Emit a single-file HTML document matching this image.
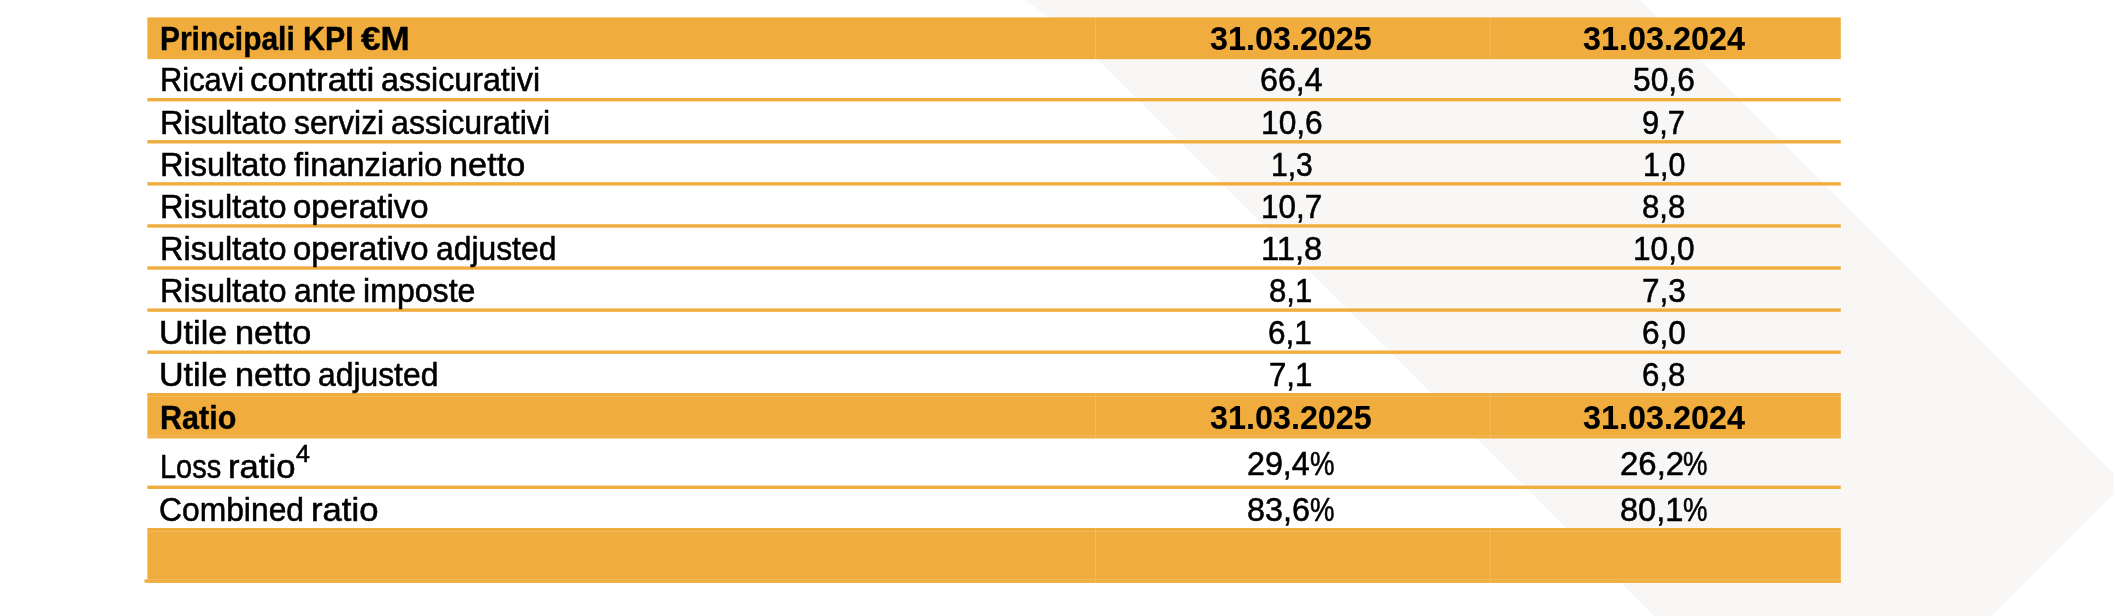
<!DOCTYPE html>
<html><head><meta charset="utf-8"><title>KPI</title>
<style>
html,body{margin:0;padding:0;background:#fff;}
body{width:2114px;height:616px;position:relative;overflow:hidden;font-family:"Liberation Sans",sans-serif;color:#000;}
.r{position:absolute;}
.t{-webkit-text-stroke-color:#000;position:absolute;white-space:nowrap;line-height:1;transform-origin:0 0;display:block;}
svg{position:absolute;left:0;top:0;}
#txt{position:absolute;left:0;top:0;width:2114px;height:616px;will-change:transform;}
</style></head><body>
<svg width="2114" height="616" viewBox="0 0 2114 616"><polygon fill="#f8f7f5" points="1024.9,0 1048.3,16.8 1097.8,59.8 1654,616 1991.5,616 2123.85,483.65 1640.2,0"/>
<rect x="147.35" y="17.40" width="1693.45" height="41.75" fill="#f0ad3d"/>
<rect x="147.35" y="98.00" width="1693.45" height="3.40" fill="#f0ad3d"/>
<rect x="147.35" y="140.08" width="1693.45" height="3.40" fill="#f0ad3d"/>
<rect x="147.35" y="182.16" width="1693.45" height="3.40" fill="#f0ad3d"/>
<rect x="147.35" y="224.24" width="1693.45" height="3.40" fill="#f0ad3d"/>
<rect x="147.35" y="266.32" width="1693.45" height="3.40" fill="#f0ad3d"/>
<rect x="147.35" y="308.40" width="1693.45" height="3.40" fill="#f0ad3d"/>
<rect x="147.35" y="350.48" width="1693.45" height="3.40" fill="#f0ad3d"/>
<rect x="147.35" y="393.00" width="1693.45" height="45.50" fill="#f0ad3d"/>
<rect x="147.35" y="485.60" width="1693.45" height="3.40" fill="#f0ad3d"/>
<rect x="147.35" y="528.00" width="1693.45" height="54.70" fill="#f0ad3d"/>
<rect x="144.50" y="579.40" width="1696.30" height="3.30" fill="#f0ad3d"/>
<rect x="1095.10" y="17.40" width="0.70" height="41.70" fill="rgba(255,255,255,0.22)"/>
<rect x="1489.70" y="17.40" width="0.70" height="41.70" fill="rgba(255,255,255,0.22)"/>
<rect x="1095.10" y="393.00" width="0.70" height="45.50" fill="rgba(255,255,255,0.22)"/>
<rect x="1489.70" y="393.00" width="0.70" height="45.50" fill="rgba(255,255,255,0.22)"/>
<rect x="1095.10" y="528.00" width="0.70" height="54.70" fill="rgba(255,255,255,0.22)"/>
<rect x="1489.70" y="528.00" width="0.70" height="54.70" fill="rgba(255,255,255,0.22)"/>
<rect x="147.35" y="396.10" width="1693.45" height="0.70" fill="rgba(255,255,255,0.22)"/>
<rect x="147.35" y="435.60" width="1693.45" height="0.70" fill="rgba(255,255,255,0.22)"/>
<rect x="147.35" y="531.20" width="1693.45" height="0.70" fill="rgba(255,255,255,0.22)"/>
<rect x="147.35" y="579.00" width="1693.45" height="0.70" fill="rgba(255,255,255,0.22)"/>
</svg>
<div id="txt">
<span class="t" style="left:160.33px;top:23.05px;font-size:32.5px;transform:scaleX(0.9210);-webkit-text-stroke-width:0.4px;font-weight:bold;">Principali</span>
<span class="t" style="left:303.30px;top:23.05px;font-size:32.5px;transform:scaleX(0.9338);-webkit-text-stroke-width:0.4px;font-weight:bold;">KPI</span>
<span class="t" style="left:361.20px;top:23.05px;font-size:32.5px;transform:scaleX(1.0790);-webkit-text-stroke-width:0.4px;font-weight:bold;">€M</span>
<span class="t" style="left:159.76px;top:64.05px;font-size:32.5px;transform:scaleX(0.9492);-webkit-text-stroke-width:0.55px;">Ricavi</span>
<span class="t" style="left:249.88px;top:64.05px;font-size:32.5px;transform:scaleX(1.0747);-webkit-text-stroke-width:0.55px;">contratti</span>
<span class="t" style="left:381.27px;top:64.05px;font-size:32.5px;transform:scaleX(0.9897);-webkit-text-stroke-width:0.55px;">assicurativi</span>
<span class="t" style="left:159.63px;top:107.05px;font-size:32.5px;transform:scaleX(1.0005);-webkit-text-stroke-width:0.55px;">Risultato</span>
<span class="t" style="left:293.78px;top:107.05px;font-size:32.5px;transform:scaleX(0.9789);-webkit-text-stroke-width:0.55px;">servizi</span>
<span class="t" style="left:390.67px;top:107.05px;font-size:32.5px;transform:scaleX(0.9897);-webkit-text-stroke-width:0.55px;">assicurativi</span>
<span class="t" style="left:159.63px;top:149.05px;font-size:32.5px;transform:scaleX(1.0005);-webkit-text-stroke-width:0.55px;">Risultato</span>
<span class="t" style="left:293.77px;top:149.05px;font-size:32.5px;transform:scaleX(1.0016);-webkit-text-stroke-width:0.55px;">finanziario</span>
<span class="t" style="left:449.43px;top:149.05px;font-size:32.5px;transform:scaleX(1.0553);-webkit-text-stroke-width:0.55px;">netto</span>
<span class="t" style="left:159.63px;top:191.05px;font-size:32.5px;transform:scaleX(1.0005);-webkit-text-stroke-width:0.55px;">Risultato</span>
<span class="t" style="left:293.24px;top:191.05px;font-size:32.5px;transform:scaleX(1.0144);-webkit-text-stroke-width:0.55px;">operativo</span>
<span class="t" style="left:159.63px;top:233.05px;font-size:32.5px;transform:scaleX(1.0005);-webkit-text-stroke-width:0.55px;">Risultato</span>
<span class="t" style="left:293.24px;top:233.05px;font-size:32.5px;transform:scaleX(1.0144);-webkit-text-stroke-width:0.55px;">operativo</span>
<span class="t" style="left:435.98px;top:233.05px;font-size:32.5px;transform:scaleX(0.9793);-webkit-text-stroke-width:0.55px;">adjusted</span>
<span class="t" style="left:159.63px;top:275.05px;font-size:32.5px;transform:scaleX(1.0005);-webkit-text-stroke-width:0.55px;">Risultato</span>
<span class="t" style="left:293.68px;top:275.05px;font-size:32.5px;transform:scaleX(0.9791);-webkit-text-stroke-width:0.55px;">ante</span>
<span class="t" style="left:362.87px;top:275.05px;font-size:32.5px;transform:scaleX(0.9882);-webkit-text-stroke-width:0.55px;">imposte</span>
<span class="t" style="left:159.45px;top:317.05px;font-size:32.5px;transform:scaleX(1.0484);-webkit-text-stroke-width:0.55px;">Utile</span>
<span class="t" style="left:234.63px;top:317.05px;font-size:32.5px;transform:scaleX(1.0553);-webkit-text-stroke-width:0.55px;">netto</span>
<span class="t" style="left:159.45px;top:359.05px;font-size:32.5px;transform:scaleX(1.0484);-webkit-text-stroke-width:0.55px;">Utile</span>
<span class="t" style="left:234.63px;top:359.05px;font-size:32.5px;transform:scaleX(1.0553);-webkit-text-stroke-width:0.55px;">netto</span>
<span class="t" style="left:318.18px;top:359.05px;font-size:32.5px;transform:scaleX(0.9793);-webkit-text-stroke-width:0.55px;">adjusted</span>
<span class="t" style="left:159.89px;top:402.05px;font-size:32.5px;transform:scaleX(0.9392);-webkit-text-stroke-width:0.4px;font-weight:bold;">Ratio</span>
<span class="t" style="left:159.91px;top:451.05px;font-size:32.5px;transform:scaleX(0.8918);-webkit-text-stroke-width:0.55px;">Loss</span>
<span class="t" style="left:228.21px;top:451.05px;font-size:32.5px;transform:scaleX(1.0664);-webkit-text-stroke-width:0.55px;">ratio</span>
<span class="t" style="left:159.08px;top:494.05px;font-size:32.5px;transform:scaleX(0.9790);-webkit-text-stroke-width:0.55px;">Combined</span>
<span class="t" style="left:311.11px;top:494.05px;font-size:32.5px;transform:scaleX(1.0664);-webkit-text-stroke-width:0.55px;">ratio</span>
<span class="t" style="left:1210.14px;top:22.05px;font-size:33.5px;transform:scaleX(0.9651);-webkit-text-stroke-width:0.1px;font-weight:bold;">31.03.2025</span>
<span class="t" style="left:1582.54px;top:22.05px;font-size:33.5px;transform:scaleX(0.9662);-webkit-text-stroke-width:0.1px;font-weight:bold;">31.03.2024</span>
<span class="t" style="left:1259.77px;top:63.05px;font-size:33.5px;transform:scaleX(0.9595);-webkit-text-stroke-width:0.55px;">66,4</span>
<span class="t" style="left:1632.98px;top:63.05px;font-size:33.5px;transform:scaleX(0.9483);-webkit-text-stroke-width:0.55px;">50,6</span>
<span class="t" style="left:1260.89px;top:106.05px;font-size:33.5px;transform:scaleX(0.9466);-webkit-text-stroke-width:0.55px;">10,6</span>
<span class="t" style="left:1642.33px;top:106.05px;font-size:33.5px;transform:scaleX(0.9200);-webkit-text-stroke-width:0.55px;">9,7</span>
<span class="t" style="left:1270.60px;top:148.05px;font-size:33.5px;transform:scaleX(0.8964);-webkit-text-stroke-width:0.55px;">1,3</span>
<span class="t" style="left:1643.37px;top:148.05px;font-size:33.5px;transform:scaleX(0.9085);-webkit-text-stroke-width:0.55px;">1,0</span>
<span class="t" style="left:1261.01px;top:190.05px;font-size:33.5px;transform:scaleX(0.9369);-webkit-text-stroke-width:0.55px;">10,7</span>
<span class="t" style="left:1641.90px;top:190.05px;font-size:33.5px;transform:scaleX(0.9295);-webkit-text-stroke-width:0.55px;">8,8</span>
<span class="t" style="left:1260.93px;top:232.05px;font-size:33.5px;transform:scaleX(0.9762);-webkit-text-stroke-width:0.55px;">11,8</span>
<span class="t" style="left:1633.00px;top:232.05px;font-size:33.5px;transform:scaleX(0.9434);-webkit-text-stroke-width:0.55px;">10,0</span>
<span class="t" style="left:1268.90px;top:274.05px;font-size:33.5px;transform:scaleX(0.9295);-webkit-text-stroke-width:0.55px;">8,1</span>
<span class="t" style="left:1641.80px;top:274.05px;font-size:33.5px;transform:scaleX(0.9406);-webkit-text-stroke-width:0.55px;">7,3</span>
<span class="t" style="left:1268.40px;top:316.05px;font-size:33.5px;transform:scaleX(0.9406);-webkit-text-stroke-width:0.55px;">6,1</span>
<span class="t" style="left:1641.79px;top:316.05px;font-size:33.5px;transform:scaleX(0.9431);-webkit-text-stroke-width:0.55px;">6,0</span>
<span class="t" style="left:1268.81px;top:358.05px;font-size:33.5px;transform:scaleX(0.9315);-webkit-text-stroke-width:0.55px;">7,1</span>
<span class="t" style="left:1641.81px;top:358.05px;font-size:33.5px;transform:scaleX(0.9315);-webkit-text-stroke-width:0.55px;">6,8</span>
<span class="t" style="left:1210.14px;top:401.05px;font-size:33.5px;transform:scaleX(0.9651);-webkit-text-stroke-width:0.1px;font-weight:bold;">31.03.2025</span>
<span class="t" style="left:1582.54px;top:401.05px;font-size:33.5px;transform:scaleX(0.9662);-webkit-text-stroke-width:0.1px;font-weight:bold;">31.03.2024</span>
<span class="t" style="left:1246.76px;top:447.05px;font-size:33.5px;transform:scaleX(0.9626);-webkit-text-stroke-width:0.55px;">29,4</span>
<span class="t" style="left:1310.21px;top:447.05px;font-size:33.5px;transform:scaleX(0.8237);-webkit-text-stroke-width:0.55px;">%</span>
<span class="t" style="left:1619.53px;top:447.05px;font-size:33.5px;transform:scaleX(0.9836);-webkit-text-stroke-width:0.55px;">26,2</span>
<span class="t" style="left:1683.21px;top:447.05px;font-size:33.5px;transform:scaleX(0.8237);-webkit-text-stroke-width:0.55px;">%</span>
<span class="t" style="left:1247.06px;top:493.05px;font-size:33.5px;transform:scaleX(0.9658);-webkit-text-stroke-width:0.55px;">83,6</span>
<span class="t" style="left:1310.21px;top:493.05px;font-size:33.5px;transform:scaleX(0.8237);-webkit-text-stroke-width:0.55px;">%</span>
<span class="t" style="left:1620.06px;top:493.05px;font-size:33.5px;transform:scaleX(0.9722);-webkit-text-stroke-width:0.55px;">80,1</span>
<span class="t" style="left:1683.21px;top:493.05px;font-size:33.5px;transform:scaleX(0.8237);-webkit-text-stroke-width:0.55px;">%</span>
<span class="t" style="left:296.04px;top:442.60px;font-size:23.4px;transform:scaleX(1.0630);-webkit-text-stroke-width:0.55px;">4</span>
</div>
</body></html>
